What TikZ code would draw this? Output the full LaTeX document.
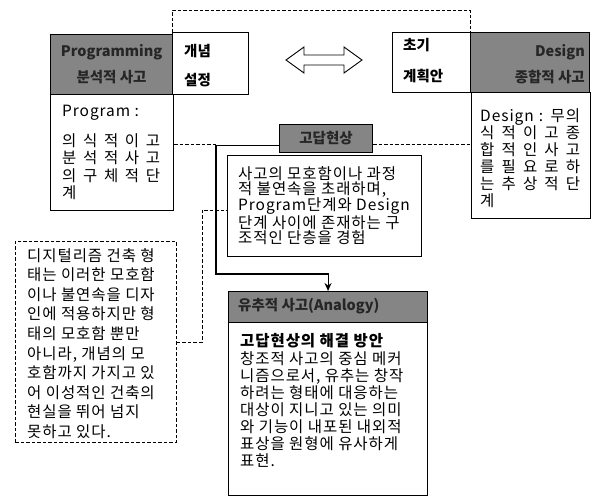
\documentclass[tikz,border=0pt]{standalone}
\usepackage{fontspec}
\usepackage{xcolor}
\usetikzlibrary{calc,positioning,arrows.meta}
\setmainfont{Noto Sans CJK KR}[LetterSpace=6]
\newfontfamily\headfont{Noto Sans CJK KR}
\definecolor{color_head_fill}{HTML}{858585}
\definecolor{color_head_text}{HTML}{262626}
\newcommand{\jline}[2]{\makebox[#1][s]{#2}}

\begin{document}
\begin{tikzpicture}[x=1pt,y=-1pt,
		every node/.style={inner sep=0pt},
		boxframe/.style={draw,line width=1.1pt,anchor=north west},
		headframe/.style={boxframe,fill=color_head_fill},
		notebox/.style={draw,line width=0.9pt,dash pattern=on 3.5pt off 2pt,anchor=north west},
		bodytext/.style={anchor=north west,align=left,font=\fontsize{15.5}{#1}\selectfont},
		headtext/.style={font=\headfont\bfseries\fontsize{14.5}{17}\selectfont},
		dashlink/.style={line width=0.9pt,dash pattern=on 3.5pt off 2pt},
		flowline/.style={line width=1.1pt,-{Stealth[length=8pt,width=7pt]}}]
	\useasboundingbox (0,0) rectangle (597,496);
	% Programming side
	\node[headframe,minimum width=122,minimum height=60] (PH) at (50,34) {};
	\node[boxframe,minimum width=76,minimum height=62] (CB) at (172,32) {};
	\node[boxframe,minimum width=123,minimum height=116] (PB) at (50,94) {};

	% Design side
	\node[boxframe,minimum width=78,minimum height=60] (IB) at (392,32) {};
	\node[headframe,minimum width=119,minimum height=60] (DH) at (470,32) {};
	\node[boxframe,minimum width=119,minimum height=126] (DB) at (471,92) {};

	% Gap
	\node[headframe,minimum width=93,minimum height=28] (GH) at (279,124) {};
	\node[boxframe,minimum width=194,minimum height=101] (GB) at (227,155) {};

	% Note
	\node[notebox,minimum width=161,minimum height=201] (NB) at (15,241) {};

	% Analogy
	\node[headframe,minimum width=199,minimum height=31] (AH) at (228,291) {};
	\node[boxframe,minimum width=199,minimum height=173] (AB) at (228,322) {};

	% Heads
	\node[headtext,align=center,text=color_head_text] (PL) at (PH.center) {Programming\\[9pt]분석적 사고};
	\node[headtext,align=left,anchor=west] (CL) at (184,65.5) {개념\\[12pt]설정};
	\node[headtext,align=left,anchor=west] (IL) at (403,61) {초기\\[14pt]계획안};
	\node[headtext,align=right,anchor=east,text=color_head_text] (DL) at (585,64) {Design\\[9pt]종합적 사고};
	\node[headtext,text=color_head_text] (GL) at (GH.center) {고답현상};
	\node[headtext,anchor=west,text=color_head_text] (AL) at (238,306.5) {유추적 사고(Analogy)};

	% Texts
	\node[bodytext=17.5] (PT) at (62,105) {Program :\\[12pt]
		\jline{98pt}{의 식 적 이 고}\\
		\jline{98pt}{분 석 적 사 고}\\
		\jline{98pt}{의 구 체 적 단}\\
		계};
	\node[bodytext=17] (DT) at (480,108) {\jline{100pt}{Design : 무의}\\
		\jline{100pt}{식 적 이 고 종}\\
		\jline{100pt}{합 적 인 사 고}\\
		\jline{100pt}{를 필 요 로 하}\\
		\jline{100pt}{는 추 상 적 단}\\
		계};
	\node[bodytext=15] (GT) at (238,166) {사고의 모호함이나 과정\\
		적 불연속을 초래하며,\\
		Program단계와 Design\\
		단계 사이에 존재하는 구\\
		조적인 단층을 경험};
	\node[bodytext=19.6] (NT) at (27,248) {디지털리즘 건축 형\\
		태는 이러한 모호함\\
		이나 불연속을 디자\\
		인에 적용하지만 형\\
		태의 모호함 뿐만\\
		아니라, 개념의 모\\
		호함까지 가지고 있\\
		어 이성적인 건축의\\
		현실을 뛰어 넘지\\
		못하고 있다.};
	\node[bodytext=17] (AT) at (240,333) {\textbf{고답현상의 해결 방안}\\[1pt]
		창조적 사고의 중심 메커\\
		니즘으로서, 유추는 창작\\
		하려는 형태에 대응하는\\
		대상이 지니고 있는 의미\\
		와 기능이 내포된 내외적\\
		표상을 원형에 유사하게\\
		표현.};

	% Double arrow
	\draw[line width=0.9pt]
		(286,60) -- (304,47) -- (304,55) -- (344,55) -- (344,47) -- (362,60)
		-- (344,73) -- (344,65) -- (304,65) -- (304,73) -- cycle;

	% Dashed links
	\coordinate (TOP) at (0,10);
	\coordinate (GJ) at (216,144);
	\coordinate (GS) at ($(GH.south west)+(0,-8)$);
	\coordinate (GR) at ($(GH.south east)+(0,-9)$);
	\coordinate (NJ) at (202,210);
	\draw[dashlink] (CB.north west) |- (TOP -| DH.north west) -- (DH.north west);
	\draw[dashlink] (PB.east |- GJ) -- (GJ);
	\draw[dashlink] (GR) -- (GR -| DB.west);
	\draw[dashlink] (NB.east) -| (NJ) -- (NJ -| GB.west);

	% Flow
	\coordinate (FC) at (216,274);
	\draw[flowline] (GS) -| (FC) -| (AH.north);
\end{tikzpicture}
\end{document}
